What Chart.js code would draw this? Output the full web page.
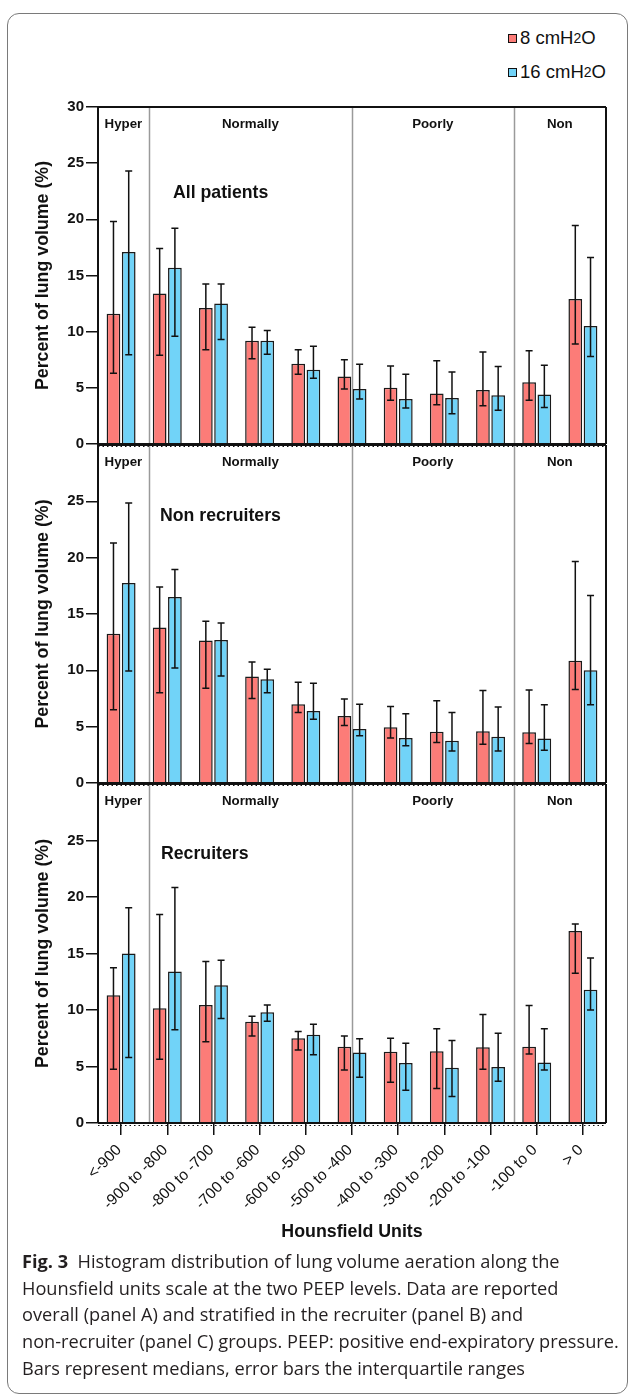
<!DOCTYPE html>
<html>
<head>
<meta charset="utf-8">
<script src="https://cdn.jsdelivr.net/npm/chart.js@4.4.1/dist/chart.umd.min.js"></script>
<style>
  html, body { margin: 0; padding: 0; background: #fff; }
  body { width: 629px; height: 1395px; position: relative; overflow: hidden;
         font-family: "Liberation Sans", Arial, sans-serif; }
  .frame { position: absolute; left: 7px; top: 13px; width: 621px; height: 1381px;
           box-sizing: border-box; border: 1px solid #7a7a7a; border-radius: 12px; }
  canvas.panel { position: absolute; left: 0; }
  .leg { position: absolute; left: 508px; height: 20px; display: flex; align-items: center;
         font-size: 18.5px; color: #111; white-space: nowrap; }
  .leg .sw { width: 7px; height: 7px; border: 1px solid #111; margin-right: 3px; }
  .leg sub { font-size: 14px; line-height: 0; vertical-align: -4px; }
  .caption { position: absolute; left: 22px; top: 1248px; font-family: "Open Sans", sans-serif;
             font-size: 18.2px; line-height: 26.7px; color: #231f20; white-space: nowrap; }
</style>
</head>
<body>
<div class="frame"></div>

<div class="leg" id="leg8" style="top:28px"><span class="sw" id="sw8"></span>8 cmH<sub>2</sub>O</div>
<div class="leg" id="leg16" style="top:62px"><span class="sw" id="sw16"></span>16 cmH<sub>2</sub>O</div>

<canvas class="panel" id="panelA" width="629" height="360" style="top:95px"></canvas>
<canvas class="panel" id="panelB" width="629" height="361" style="top:433px"></canvas>
<canvas class="panel" id="panelC" width="629" height="473" style="top:772px"></canvas>

<div class="caption"><b>Fig. 3</b>&nbsp; Histogram distribution of lung volume aeration along the<br>Hounsfield units scale at the two PEEP levels. Data are reported<br>overall (panel A) and stratified in the recruiter (panel B) and<br>non-recruiter (panel C) groups. PEEP: positive end-expiratory pressure.<br>Bars represent medians, error bars the interquartile ranges</div>

<script>
// Hounsfield bins on the x axis
const hounsfieldBins = ['<-900', '-900 to -800', '-800 to -700', '-700 to -600', '-600 to -500',
  '-500 to -400', '-400 to -300', '-300 to -200', '-200 to -100', '-100 to 0', '> 0'];
// aeration compartments and where they split (in bin units)
const regionNames = ['Hyper', 'Normally', 'Poorly', 'Non'];
const regionBreaks = [0.6, 5, 8.5];
const yMax = 30;
const yStep = 5;

// panel A - all patients (median, q1, q3)
const allMed8  = [11.6, 13.4, 12.1, 9.2, 7.15, 6.0, 5.0, 4.5, 4.8, 5.5, 12.9];
const allLo8   = [6.3, 7.9, 8.4, 7.6, 6.2, 4.9, 3.9, 3.5, 3.4, 3.9, 8.9];
const allHi8   = [19.8, 17.4, 14.25, 10.4, 8.4, 7.5, 6.95, 7.4, 8.2, 8.3, 19.45];
const allMed16 = [17.1, 15.7, 12.5, 9.2, 6.6, 4.9, 4.0, 4.1, 4.35, 4.4, 10.5];
const allLo16  = [7.95, 9.6, 9.3, 8.0, 5.85, 4.0, 3.2, 2.7, 3.0, 3.25, 7.8];
const allHi16  = [24.3, 19.2, 14.25, 10.1, 8.7, 7.1, 6.2, 6.4, 6.9, 7.0, 16.6];

// panel B - non recruiters
const nonMed8  = [13.25, 13.8, 12.65, 9.45, 7.0, 5.95, 4.95, 4.55, 4.6, 4.5, 10.85];
const nonLo8   = [6.5, 8.0, 8.4, 7.5, 6.25, 5.1, 4.0, 3.6, 3.45, 3.5, 8.3];
const nonHi8   = [21.3, 17.4, 14.35, 10.75, 8.95, 7.45, 6.8, 7.3, 8.2, 8.25, 19.65];
const nonMed16 = [17.75, 16.5, 12.7, 9.2, 6.4, 4.8, 4.0, 3.75, 4.1, 3.95, 10.0];
const nonLo16  = [9.95, 10.2, 9.5, 8.0, 5.65, 4.2, 3.3, 2.85, 2.85, 2.9, 6.95];
const nonHi16  = [24.85, 18.95, 14.2, 10.1, 8.85, 7.0, 6.15, 6.25, 6.75, 6.95, 16.65];

// panel C - recruiters
const recMed8  = [11.3, 10.15, 10.45, 8.95, 7.5, 6.75, 6.3, 6.35, 6.7, 6.75, 17.0];
const recLo8   = [4.75, 5.65, 7.2, 7.7, 6.45, 4.7, 3.6, 3.05, 4.75, 6.1, 13.25];
const recHi8   = [13.75, 18.45, 14.3, 9.45, 8.1, 7.7, 7.5, 8.35, 9.6, 10.4, 17.6];
const recMed16 = [15.0, 13.4, 12.2, 9.8, 7.8, 6.25, 5.3, 4.9, 4.95, 5.35, 11.8];
const recLo16  = [5.8, 8.25, 9.25, 9.0, 6.05, 4.05, 2.9, 2.35, 3.7, 4.7, 10.0];
const recHi16  = [19.05, 20.85, 14.4, 10.45, 8.75, 7.45, 7.05, 7.3, 7.95, 8.35, 14.6];

const RED = '#FC7C78';
const BLUE = '#71D3F8';
const INK = '#111';
const FAMILY = '"Liberation Sans", Arial, Helvetica, sans-serif';

document.getElementById('sw8').style.background = RED;
document.getElementById('sw16').style.background = BLUE;

Chart.defaults.font.family = FAMILY;
Chart.defaults.color = INK;

// interquartile whiskers, drawn from dataset.lo / dataset.hi
const errorBars = {
  id: 'errorBars',
  afterDatasetsDraw(chart) {
    const ctx = chart.ctx;
    const y = chart.scales.y;
    ctx.save();
    ctx.strokeStyle = INK;
    ctx.lineWidth = 1.5;
    chart.data.datasets.forEach((ds, di) => {
      chart.getDatasetMeta(di).data.forEach((bar, i) => {
        const yl = y.getPixelForValue(ds.lo[i]);
        const yh = y.getPixelForValue(ds.hi[i]);
        ctx.beginPath();
        ctx.moveTo(bar.x, yl); ctx.lineTo(bar.x, yh);
        ctx.moveTo(bar.x - 3.5, yl); ctx.lineTo(bar.x + 3.5, yl);
        ctx.moveTo(bar.x - 3.5, yh); ctx.lineTo(bar.x + 3.5, yh);
        ctx.stroke();
      });
    });
    ctx.restore();
  }
};

// frame of the plot, compartment separators and labels, panel title
const panelDeco = {
  id: 'panelDeco',
  beforeDatasetsDraw(chart) {
    const { ctx, chartArea: a, scales: { x } } = chart;
    ctx.save();
    ctx.strokeStyle = '#9a9a9a';
    ctx.lineWidth = 1.5;
    regionBreaks.forEach(b => {
      const px = Math.round(x.getPixelForValue(b)) + 0.5;
      ctx.beginPath();
      ctx.moveTo(px, a.top);
      ctx.lineTo(px, a.bottom);
      ctx.stroke();
    });
    ctx.restore();
  },
  afterDraw(chart, args, opts) {
    const { ctx, chartArea: a, scales: { x } } = chart;
    ctx.save();
    ctx.strokeStyle = INK;
    ctx.lineWidth = 2;
    ctx.beginPath();
    ctx.moveTo(a.left, a.top); ctx.lineTo(a.right, a.top);
    ctx.moveTo(a.right, a.top); ctx.lineTo(a.right, a.bottom);
    ctx.moveTo(a.left, a.bottom); ctx.lineTo(a.right, a.bottom);
    ctx.stroke();
    ctx.lineWidth = 1;
    ctx.setLineDash([1.5, 3]);
    ctx.beginPath();
    ctx.moveTo(a.left, a.bottom + 2.5); ctx.lineTo(a.right, a.bottom + 2.5);
    ctx.stroke();
    ctx.setLineDash([]);

    const edges = [a.left, ...regionBreaks.map(b => x.getPixelForValue(b)), a.right];
    ctx.fillStyle = INK;
    ctx.font = 'bold 13.3px ' + FAMILY;
    ctx.textAlign = 'center';
    ctx.textBaseline = 'middle';
    regionNames.forEach((n, i) => {
      ctx.fillText(n, (edges[i] + edges[i + 1]) / 2, a.top + 17);
    });

    ctx.font = 'bold 17.7px ' + FAMILY;
    ctx.textAlign = 'left';
    ctx.fillText(opts.title, a.left + opts.dx, a.top + opts.dy);
    ctx.restore();
  }
};

function makePanel(canvasId, p) {
  const last = !!p.last;
  return new Chart(document.getElementById(canvasId), {
    type: 'bar',
    data: {
      labels: hounsfieldBins,
      datasets: [
        { label: '8 cmH2O', data: p.med8, lo: p.lo8, hi: p.hi8, backgroundColor: RED },
        { label: '16 cmH2O', data: p.med16, lo: p.lo16, hi: p.hi16, backgroundColor: BLUE }
      ]
    },
    options: {
      responsive: false,
      animation: false,
      layout: { padding: { top: 12, bottom: last ? 0 : 10, left: 0, right: 23 } },
      datasets: {
        bar: { borderColor: '#1a1a1a', borderWidth: 1.5, categoryPercentage: 0.66, barPercentage: 0.9 }
      },
      plugins: {
        legend: { display: false },
        tooltip: { enabled: false },
        panelDeco: { title: p.title, dx: p.dx, dy: p.dy }
      },
      scales: {
        x: {
          display: last,
          offset: true,
          grid: { display: true, drawOnChartArea: false, offset: false, tickLength: 12, color: INK, lineWidth: 1.5 },
          border: { display: false },
          ticks: { autoSkip: false, maxRotation: 45, minRotation: 45, padding: 6, labelOffset: -2,
                   font: { size: 15.5 }, color: INK },
          title: { display: last, text: 'Hounsfield Units', font: { size: 17.8, weight: 'bold' }, padding: { top: 0, bottom: 2 } },
          afterFit: s => { if (last) s.height = 122; }
        },
        y: {
          min: 0,
          max: yMax,
          afterFit: s => { s.width = 98; },
          grid: { drawOnChartArea: false, tickLength: 12, color: INK, lineWidth: 1.5 },
          border: { display: true, color: INK, width: 2 },
          ticks: {
            stepSize: yStep, padding: 2, color: INK,
            font: { size: 15, weight: 'bold' },
            callback: v => (v === yMax && !p.first) ? null : v
          },
          title: { display: true, text: 'Percent of lung volume (%)', font: { size: 17.8, weight: 'bold' }, padding: { top: 32 } }
        }
      }
    },
    plugins: [panelDeco, errorBars]
  });
}

makePanel('panelA', { first: true, title: 'All patients', dx: 75, dy: 86,
  med8: allMed8, lo8: allLo8, hi8: allHi8, med16: allMed16, lo16: allLo16, hi16: allHi16 });
makePanel('panelB', { title: 'Non recruiters', dx: 62, dy: 71,
  med8: nonMed8, lo8: nonLo8, hi8: nonHi8, med16: nonMed16, lo16: nonLo16, hi16: nonHi16 });
makePanel('panelC', { last: true, title: 'Recruiters', dx: 63, dy: 70,
  med8: recMed8, lo8: recLo8, hi8: recHi8, med16: recMed16, lo16: recLo16, hi16: recHi16 });
</script>
</body>
</html>
